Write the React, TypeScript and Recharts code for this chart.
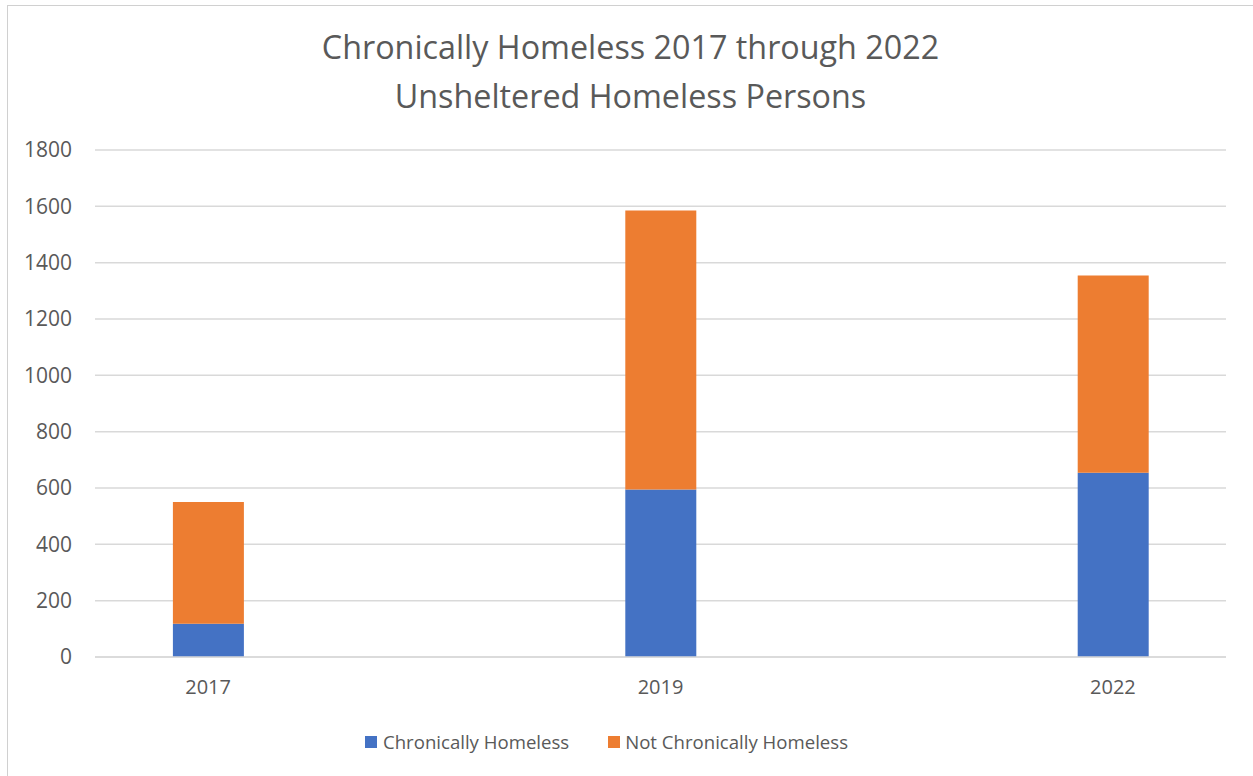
import { BarChart, Bar, XAxis, YAxis, CartesianGrid } from 'recharts';

const years = ['2017', '2019', '2022'];
const chronic = [118, 595, 654];
const notChronic = [432, 990, 700];
const yTicks = [0, 200, 400, 600, 800, 1000, 1200, 1400, 1600, 1800];

const BLUE = '#4472C4';
const ORANGE = '#ED7D31';
const TEXT = '#595959';
const GRID = '#d9d9d9';
const FONT = '"Open Sans", sans-serif';

const data = years.map((year, i) => ({
  idx: i,
  year,
  chronic: chronic[i],
  notChronic: notChronic[i],
}));

export default function App() {
  return (
    <div style={{ position: 'absolute', left: 0, top: 0, width: 1253, height: 776, overflow: 'hidden', fontFamily: FONT }}>
      {/* frame */}
      <div
        style={{
          position: 'absolute',
          left: 7,
          top: 5,
          width: 1260,
          height: 790,
          border: '1px solid #d0d0d0',
        }}
      />
      <div
        style={{
          position: 'absolute',
          left: 4,
          top: 0,
          width: 1253,
          textAlign: 'center',
          color: TEXT,
          fontSize: 32.3,
          lineHeight: '49px',
          paddingTop: 22,
        }}
      >
        <div>Chronically Homeless 2017 through 2022</div>
        <div>Unsheltered Homeless Persons</div>
      </div>
      <div style={{ position: 'absolute', left: 0, top: 0 }}>
        <BarChart
          width={1253}
          height={776}
          data={data}
          margin={{ top: 150, right: 27, bottom: 79, left: 35 }}
        >
          <CartesianGrid vertical={false} stroke={GRID} strokeWidth={1.5} />
          <XAxis
            dataKey="idx"
            type="number"
            domain={[-0.25, 2.25]}
            ticks={[0, 1, 2]}
            tickFormatter={(v: number) => years[v]}
            height={40}
            axisLine={{ stroke: GRID, strokeWidth: 1.5 }}
            tickLine={false}
            tickSize={0}
            tickMargin={23}
            tick={{ fill: TEXT, fontSize: 20, fontFamily: FONT }}
          />
          <YAxis
            domain={[0, 1800]}
            ticks={yTicks}
            width={60}
            axisLine={false}
            tickLine={false}
            tickSize={0}
            tickMargin={23}
            tick={{ fill: TEXT, fontSize: 21, fontFamily: FONT }}
          />
          <Bar dataKey="chronic" stackId="a" fill={BLUE} barSize={71} isAnimationActive={false} />
          <Bar dataKey="notChronic" stackId="a" fill={ORANGE} barSize={71} isAnimationActive={false} />
        </BarChart>
      </div>
      <div
        style={{
          position: 'absolute',
          left: 365,
          top: 728,
          display: 'flex',
          alignItems: 'center',
          gap: 39,
          color: TEXT,
          fontSize: 18.6,
          lineHeight: '28px',
        }}
      >
        <span style={{ display: 'flex', alignItems: 'center' }}>
          <span style={{ width: 12, height: 12, background: BLUE, marginRight: 6 }} />
          Chronically Homeless
        </span>
        <span style={{ display: 'flex', alignItems: 'center' }}>
          <span style={{ width: 12, height: 12, background: ORANGE, marginRight: 5 }} />
          Not Chronically Homeless
        </span>
      </div>
    </div>
  );
}
